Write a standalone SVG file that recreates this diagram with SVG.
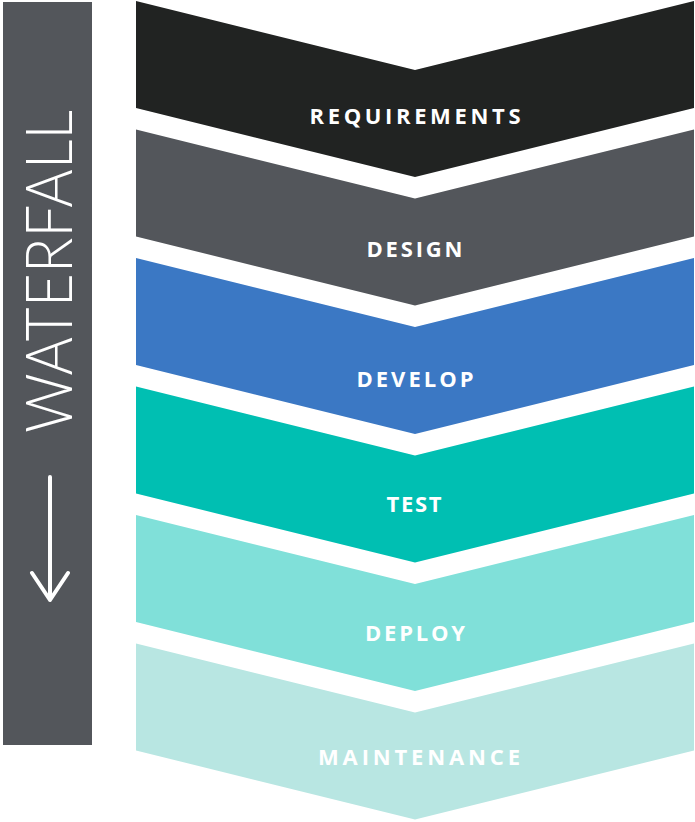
<svg xmlns="http://www.w3.org/2000/svg" width="695" height="822" viewBox="0 0 695 822">
<style>
.lbl{font-family:"Open Sans",Lato,"Liberation Sans",sans-serif;font-weight:700;font-size:22px;fill:#ffffff;text-anchor:middle;letter-spacing:3px}
.wf{font-family:Lato,"Open Sans","Liberation Sans",sans-serif;font-weight:300;font-size:65px;fill:#ffffff}
.arr{fill:none;stroke:#ffffff;stroke-width:4;stroke-linecap:round;stroke-linejoin:round}
</style>
<defs>
<polygon id="chev" points="136,0 415,69 694,0 694,107 415,176 136,107"/>
</defs>
<rect width="695" height="822" fill="#ffffff"/>
<g id="sidebar">
<rect x="3" y="2" width="89" height="743" fill="#53565b"/>
<text class="wf" transform="translate(72,433) rotate(-90)" textLength="323" lengthAdjust="spacingAndGlyphs">WATERFALL</text>
<path class="arr" d="M50,477 V600 M32,573 L50,600 L68,573"/>
</g>
<g id="connectors"></g>
<g id="requirements">
<use href="#chev" y="1" fill="#212322"/>
<text class="lbl" x="416.5" y="123.5" textLength="214">REQUIREMENTS</text>
</g>
<g id="design">
<use href="#chev" y="129.5" fill="#53565b"/>
<text class="lbl" x="416" y="257" textLength="99">DESIGN</text>
</g>
<g id="develop">
<use href="#chev" y="258" fill="#3b78c4"/>
<text class="lbl" x="416.5" y="386.5" textLength="120">DEVELOP</text>
</g>
<g id="test">
<use href="#chev" y="386.5" fill="#00bfb2"/>
<text class="lbl" x="415.5" y="512" textLength="58">TEST</text>
</g>
<g id="deploy">
<use href="#chev" y="515" fill="#80e0d9"/>
<text class="lbl" x="416.5" y="641" textLength="103">DEPLOY</text>
</g>
<g id="maintenance">
<use href="#chev" y="643.5" fill="#b8e6e2"/>
<text class="lbl" x="420.5" y="764.5" textLength="205">MAINTENANCE</text>
</g>
</svg>
